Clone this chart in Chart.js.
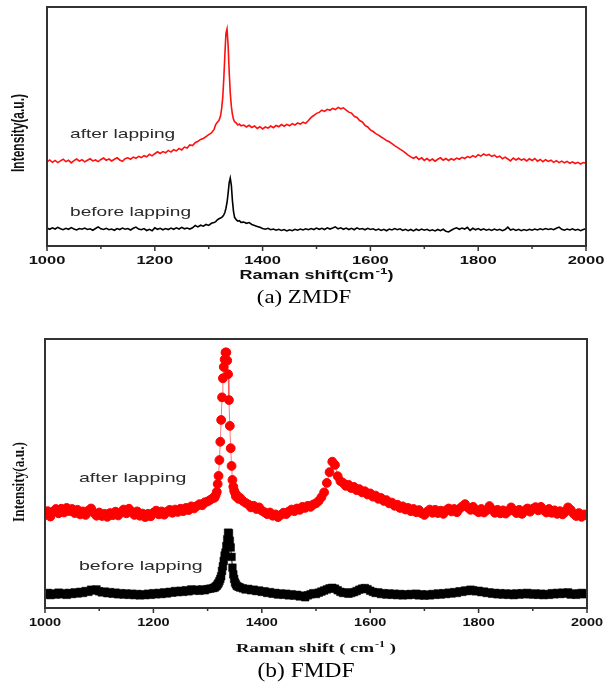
<!DOCTYPE html>
<html>
<head>
<meta charset="utf-8">
<script src="https://cdn.jsdelivr.net/npm/chart.js@4.4.1/dist/chart.umd.min.js"></script>
<style>
  html, body { margin: 0; padding: 0; background: #fff; }
  body { width: 606px; height: 684px; position: relative; overflow: hidden; }
  .wrap { position: absolute; left: 0; width: 606px; }
</style>
</head>
<body>
<div class="wrap" style="top:0;height:315px"><canvas id="chartA"></canvas></div>
<div class="wrap" style="top:315px;height:369px"><canvas id="chartB"></canvas></div>
<script>
// ---------- data ----------
function seq(a, b, step) { const r = []; for (let v = a; v <= b + 1e-9; v += step) r.push(+v.toFixed(1)); return r; }

// Raman shift sampling (cm^-1)
const ramanA = [...seq(1000, 1310, 5),
  1313, 1316, 1319, 1322, 1324, 1326, 1328, 1330, 1332, 1334, 1336, 1338, 1340, 1342, 1344, 1346, 1348, 1351, 1354, 1357, 1360,
  ...seq(1365, 2000, 5)];
const ramanB = [...seq(1000, 1310, 5),
  1313, 1315, 1317, 1318.6, 1320.2, 1321.8, 1323.4, 1325, 1326.6, 1328.2, 1329.8, 1331.4, 1333, 1334.6, 1336.2, 1337.8,
  1339.4, 1341, 1342.6, 1344.2, 1345.8, 1347.4, 1349, 1350.6, 1352.2, 1354, 1357, 1360,
  ...seq(1365, 2000, 5)];

// (a) ZMDF – after lapping
const zmdfAfter = [
  35.2, 36.0, 35.0, 35.8, 34.9, 35.6, 36.3, 35.3, 35.9, 34.8,
  35.7, 36.4, 35.5, 36.1, 35.2, 35.9, 36.5, 35.6, 36.0, 35.3,
  36.2, 36.8, 35.9, 36.4, 35.6, 36.3, 36.9, 36.0, 35.4, 36.5,
  36.9, 36.3, 37.2, 36.7, 37.5, 37.0, 37.8, 37.3, 38.4, 37.7,
  38.6, 39.4, 38.7, 39.5, 39.0, 40.0, 39.3, 40.3, 39.8, 40.8,
  40.2, 41.4, 41.0, 42.3, 42.0, 43.2, 43.8, 44.6, 45.0, 45.8,
  46.6, 47.3, 48.8,
  50.8, 51.8, 52.5, 54.5, 57.5, 62, 70, 80, 89, 90.8, 84, 73, 64, 58.5, 55, 53, 52, 51.5, 50.6, 51.0, 50.3,
  50.6, 49.8, 50.5, 49.6, 50.2, 49.2, 49.9, 49.0, 49.8, 49.3,
  50.2, 49.5, 50.4, 49.9, 50.8, 50.1, 50.9, 50.3, 51.2, 50.6,
  51.5, 51.0, 51.8, 51.3, 52.5, 53.8, 54.6, 55.5, 55.9, 56.8,
  56.3, 57.2, 56.8, 57.6, 57.1, 58.0, 57.4, 57.8, 56.9, 56.0,
  55.6, 54.3, 53.8, 52.5, 51.9, 50.5, 49.8, 48.6, 47.9, 47.0,
  46.4, 45.6, 44.9, 44.1, 43.6, 42.8, 42.0, 41.3, 40.5, 39.8,
  39.0, 38.0, 37.3, 36.7, 37.3, 36.2, 36.9, 35.8, 36.6, 35.7,
  36.4, 35.5, 36.3, 36.9, 35.9, 36.6, 35.8, 36.5, 36.0, 36.8,
  36.3, 37.1, 36.6, 37.4, 37.0, 37.8, 37.2, 38.2, 37.6, 38.5,
  37.9, 38.3, 37.5, 38.0, 37.1, 37.6, 36.5, 37.2, 36.4, 35.6,
  36.8, 36.0, 36.7, 35.9, 36.4, 35.6, 36.5, 35.8, 36.6, 35.5,
  36.2, 35.3, 36.1, 35.4, 35.9, 35.0, 35.7, 34.9, 35.5, 34.8,
  35.4, 34.6, 35.2, 34.5, 35.0, 34.3, 34.9, 34.6
];
// (a) ZMDF – before lapping
const zmdfBefore = [
  7.5, 7.0, 7.6, 7.1, 7.8, 7.2, 6.8, 7.4, 7.0, 7.7,
  7.1, 6.7, 7.3, 7.0, 7.5, 6.9, 7.2, 6.6, 7.3, 8.0,
  7.2, 6.9, 7.4, 6.8, 7.1, 6.6, 7.3, 6.9, 7.5, 7.0,
  7.3, 6.7, 7.4, 7.9, 7.1, 6.8, 7.3, 6.5, 7.0, 6.4,
  7.6, 7.0, 7.4, 6.8, 7.3, 6.9, 7.5, 7.0, 7.6, 7.1,
  7.8, 7.2, 7.5, 7.1, 7.6, 8.6, 8.0, 8.7, 8.3, 9.0,
  8.6, 9.5, 9.8,
  10.2, 10.9, 11.4, 11.7, 12.0, 12.4, 13.0, 14.0, 15.8, 18.2, 22.0, 26.5, 28.4, 25.5, 19.0, 14.5, 12.0, 11.0, 10.4, 10.6, 9.9,
  10.0, 9.5, 9.8, 9.0, 8.6, 8.2, 7.8, 7.3, 7.0, 7.4,
  6.8, 7.1, 6.6, 7.0, 6.5, 6.9, 6.3, 6.8, 6.4, 7.0,
  6.6, 7.1, 6.7, 7.2, 6.8, 7.3, 6.9, 7.5, 7.0, 7.4,
  6.9, 7.6, 7.1, 7.5, 8.0, 7.2, 7.6, 7.0, 7.5, 6.9,
  7.4, 6.8, 7.6, 7.0, 7.3, 6.8, 7.4, 6.9, 7.2, 6.6,
  7.1, 6.5, 7.0, 6.4, 7.1, 6.7, 7.3, 6.8, 7.2, 6.5,
  7.0, 6.4, 6.9, 6.3, 7.0, 6.5, 7.1, 6.6, 7.0, 6.4,
  6.8, 6.3, 6.9, 6.4, 7.0, 6.2, 5.9, 6.6, 7.2, 7.6,
  7.0, 7.5, 7.1, 7.8, 6.5, 7.4, 6.8, 7.3, 6.7, 7.2,
  6.6, 7.0, 6.5, 7.1, 6.6, 7.0, 6.4, 6.9, 7.9, 6.7,
  7.1, 6.5, 7.0, 6.4, 6.9, 6.5, 7.0, 6.6, 7.1, 6.7,
  7.2, 6.8, 7.3, 6.9, 7.2, 6.8, 7.4, 7.9, 7.0, 6.6,
  7.1, 6.7, 7.2, 6.6, 7.0, 6.4, 6.9, 7.2
];
// (b) FMDF – after lapping
const fmdfAfter = [
  34.5, 36.0, 34.0, 35.8, 36.8, 35.2, 36.9, 35.5, 37.2, 36.0,
  36.8, 35.3, 36.5, 34.8, 35.9, 34.6, 36.2, 37.0, 35.4, 34.3,
  35.5, 34.2, 35.0, 33.9, 35.3, 34.5, 35.8, 34.4, 35.6, 36.6,
  35.2, 36.9, 35.7, 34.6, 35.9, 34.3, 35.1, 33.8, 35.0, 34.1,
  35.4, 36.2, 34.8, 35.9, 34.7, 35.8, 36.5, 35.4, 36.6, 35.7,
  36.9, 36.0, 37.2, 36.4, 37.8, 37.0, 37.9, 38.6, 38.2, 39.3,
  39.6, 40.2, 40.9,
  41.0, 42.0, 43.2, 46.1, 49.1, 55.0, 61.8, 69.9, 78.3, 85.4, 89.6, 92.4, 95.0, 95.0, 92.0, 86.9,
  77.3, 67.7, 59.4, 52.8, 47.6, 45.1, 43.6, 42.8, 41.5, 41.9, 40.6, 40.9,
  39.8, 39.1, 38.5, 37.4, 38.0, 36.8, 37.4, 36.2, 35.6, 34.9,
  35.5, 34.3, 34.8, 33.8, 34.6, 35.4, 34.9, 35.9, 36.6, 36.0,
  37.0, 36.5, 37.6, 37.2, 38.0, 37.6, 38.5, 38.9, 39.8, 41.2,
  43.0, 46.5, 50.5, 54.4, 53.2, 49.0, 47.2, 46.5, 45.4, 45.8,
  44.6, 45.0, 43.8, 44.2, 43.0, 43.4, 42.2, 42.6, 41.4, 41.8,
  40.6, 40.9, 39.8, 40.1, 38.9, 39.2, 38.0, 38.4, 37.2, 37.8,
  36.6, 37.2, 36.0, 36.8, 35.6, 36.4, 35.2, 34.6, 35.8, 36.6,
  35.4, 36.5, 35.3, 36.2, 35.0, 36.3, 37.0, 35.9, 36.8, 35.6,
  36.9, 37.8, 38.6, 37.4, 36.5, 37.6, 36.3, 35.6, 36.8, 35.5,
  36.4, 37.9, 36.6, 35.4, 36.5, 35.2, 36.3, 35.1, 36.0, 37.4,
  36.2, 35.3, 36.5, 35.0, 36.1, 37.0, 35.8, 36.9, 37.5, 36.3,
  37.6, 36.4, 35.5, 36.8, 35.4, 36.3, 35.0, 36.0, 34.8, 35.7,
  37.4, 36.5, 35.1, 34.2, 35.3, 33.9, 34.8, 34.4
];
// (b) FMDF – before lapping
const fmdfBefore = [
  5.0, 5.6, 4.8, 5.4, 5.0, 5.7, 5.1, 5.5, 4.9, 5.6,
  5.2, 5.8, 5.4, 6.0, 5.6, 6.3, 6.0, 6.8, 6.5, 6.9,
  6.2, 5.8, 6.1, 5.5, 5.9, 5.3, 5.7, 5.1, 5.5, 5.0,
  5.4, 4.9, 5.3, 4.8, 5.2, 4.7, 5.1, 4.8, 5.3, 4.9,
  5.5, 5.1, 5.6, 5.2, 5.8, 5.4, 6.0, 5.7, 6.3, 5.9,
  6.4, 6.0, 6.6, 6.2, 6.9, 6.5, 6.8, 6.4, 6.9, 6.6,
  7.0, 7.2, 7.4,
  7.6, 8.0, 8.3, 8.8, 9.3, 10.0, 10.8, 11.8, 13.8, 15.5, 17.5, 19.5, 20.6, 23.0, 25.5, 28.0,
  27.8, 25.0, 22.5, 19.0, 15.0, 12.5, 10.8, 9.5, 8.8, 8.2, 7.9, 7.6,
  7.3, 6.9, 7.1, 6.6, 6.8, 6.3, 6.5, 6.0, 6.2, 5.6,
  5.9, 5.3, 5.6, 5.0, 5.4, 4.9, 5.3, 4.7, 5.1, 4.6,
  4.9, 4.3, 4.6, 4.0, 4.7, 5.1, 5.5, 5.2, 5.7, 6.1,
  6.5, 6.9, 7.3, 7.5, 7.2, 6.6, 6.0, 5.6, 5.8, 5.3,
  5.6, 5.9, 6.3, 6.8, 7.2, 7.4, 7.0, 6.4, 6.0, 5.6,
  5.8, 5.2, 5.5, 5.0, 5.4, 4.9, 5.3, 4.8, 5.2, 4.7,
  5.1, 4.8, 5.2, 4.9, 5.3, 4.7, 5.1, 4.6, 5.0, 4.7,
  5.2, 4.9, 5.4, 5.0, 5.5, 5.2, 5.7, 5.4, 5.9, 5.6,
  6.2, 6.0, 6.5, 6.3, 6.8, 6.6, 6.2, 6.4, 5.9, 6.1,
  5.6, 5.8, 5.3, 5.6, 5.1, 5.5, 5.0, 5.4, 4.9, 5.3,
  4.8, 5.4, 5.0, 5.5, 5.1, 5.6, 5.2, 5.0, 5.4, 4.9,
  5.3, 4.8, 5.2, 4.9, 5.5, 5.1, 5.6, 5.2, 5.7, 5.3,
  5.8, 5.0, 5.4, 4.9, 5.3, 5.6, 5.1, 5.4
];

const xTickValues = [1000, 1200, 1400, 1600, 1800, 2000];
const seriesLabels = ['after lapping', 'before lapping'];

[[ramanA, zmdfAfter], [ramanA, zmdfBefore], [ramanB, fmdfAfter], [ramanB, fmdfBefore]].forEach(([x, y], i) => {
  if (x.length !== y.length) console.error('length mismatch in series ' + i + ': ' + x.length + ' vs ' + y.length);
});
const pts = (xs, ys) => xs.map((x, i) => ({ x, y: ys[i] }));

// ---------- text helpers ----------
function sText(ctx, txt, x, y, font, sx, align, color) {
  ctx.save();
  ctx.font = font;
  ctx.fillStyle = color || '#111';
  ctx.textBaseline = 'alphabetic';
  ctx.textAlign = 'left';
  const w = ctx.measureText(txt).width * sx;
  const left = align === 'center' ? x - w / 2 : (align === 'right' ? x - w : x);
  ctx.translate(left, y);
  ctx.scale(sx, 1);
  ctx.fillText(txt, 0, 0);
  ctx.restore();
  return w;
}
function measure(ctx, txt, font, sx) { ctx.save(); ctx.font = font; const w = ctx.measureText(txt).width * sx; ctx.restore(); return w; }
function vText(ctx, txt, cx, cy, font, sy, color) {
  ctx.save();
  ctx.font = font; ctx.fillStyle = color || '#111';
  ctx.textAlign = 'center'; ctx.textBaseline = 'middle';
  ctx.translate(cx, cy); ctx.rotate(-Math.PI / 2); ctx.scale(1, sy);
  ctx.fillText(txt, 0, 0);
  ctx.restore();
}

function decorPlugin(cfg) {
  return {
    id: 'decor',
    afterDatasetsDraw(chart) {
      const { ctx, chartArea: a, scales } = chart;
      const xs = scales.x;
      const oy = cfg.offsetY;
      ctx.save();
      ctx.strokeStyle = '#333'; ctx.lineWidth = 2;
      ctx.strokeRect(a.left, a.top, a.right - a.left, a.bottom - a.top);
      ctx.lineWidth = 1.5;
      xs.ticks.forEach(t => {
        const px = xs.getPixelForValue(t.value);
        const major = t.value % 200 === 0;
        ctx.beginPath();
        ctx.moveTo(px, a.bottom);
        ctx.lineTo(px, a.bottom + (major ? 5 : 3));
        ctx.stroke();
      });
      ctx.restore();
      xTickValues.forEach(v => {
        sText(ctx, String(v), xs.getPixelForValue(v), cfg.tickBase - oy, cfg.tickFont, cfg.tickSx, 'center');
      });
      const cx = (a.left + a.right) / 2;
      const w1 = measure(ctx, cfg.title[0], cfg.titleFont, cfg.titleSx);
      const w2 = measure(ctx, cfg.title[1], cfg.supFont, cfg.titleSx);
      const w3 = measure(ctx, cfg.title[2], cfg.titleFont, cfg.titleSx);
      const x0 = cx - (w1 + w2 + w3 + 1) / 2;
      sText(ctx, cfg.title[0], x0, cfg.titleBase - oy, cfg.titleFont, cfg.titleSx, 'left');
      sText(ctx, cfg.title[1], x0 + w1 + 1, cfg.supBase - oy, cfg.supFont, cfg.titleSx, 'left');
      sText(ctx, cfg.title[2], x0 + w1 + w2 + 1, cfg.titleBase - oy, cfg.titleFont, cfg.titleSx, 'left');
      vText(ctx, 'Intensity(a.u.)', cfg.yTitleX, cfg.yTitleY - oy, cfg.yTitleFont, cfg.yTitleSy);
      sText(ctx, seriesLabels[0], cfg.annX, cfg.annAfter - oy, cfg.annFont, cfg.annSx, 'left', '#2a2a2a');
      sText(ctx, seriesLabels[1], cfg.annX, cfg.annBefore - oy, cfg.annFont, cfg.annSx, 'left', '#2a2a2a');
      sText(ctx, cfg.caption, cfg.capX, cfg.capBase - oy, cfg.capFont, cfg.capSx, 'center', '#000');
    }
  };
}

function xScale(height) {
  return {
    type: 'linear', min: 1000, max: 2000,
    ticks: { stepSize: 100, display: false },
    grid: { display: false }, border: { display: false },
    afterFit(s) { s.height = height; }
  };
}

Chart.defaults.animation = false;

// (a) ZMDF
new Chart(document.getElementById('chartA'), {
  type: 'line',
  data: {
    datasets: [
      { label: seriesLabels[0], data: pts(ramanA, zmdfAfter), borderColor: '#ff1010', borderWidth: 1.6, pointRadius: 0, tension: 0 },
      { label: seriesLabels[1], data: pts(ramanA, zmdfBefore), borderColor: '#000', borderWidth: 1.6, pointRadius: 0, tension: 0 }
    ]
  },
  options: {
    responsive: true, maintainAspectRatio: false, devicePixelRatio: 1,
    layout: { padding: { left: 47, right: 20, top: 7, bottom: 0 } },
    plugins: { legend: { display: false }, tooltip: { enabled: false } },
    scales: { x: xScale(69), y: { min: 0, max: 100, display: false } }
  },
  plugins: [decorPlugin({
    offsetY: 0,
    tickBase: 264, tickFont: 'bold 11px "Liberation Sans"', tickSx: 1.5,
    title: ['Raman shift(cm', '-1', ')'], titleFont: 'bold 12px "Liberation Sans"', supFont: 'bold 9px "Liberation Sans"',
    titleSx: 1.5, titleBase: 279, supBase: 274,
    yTitleX: 19, yTitleY: 133, yTitleFont: 'bold 12px "Liberation Sans"', yTitleSy: 1.5,
    annX: 70, annAfter: 138, annBefore: 216, annFont: '13px "Liberation Sans"', annSx: 1.47,
    caption: '(a) ZMDF', capX: 304, capBase: 303, capFont: '19px "Liberation Serif"', capSx: 1.2
  })]
});

// (b) FMDF
new Chart(document.getElementById('chartB'), {
  type: 'line',
  data: {
    datasets: [
      { label: seriesLabels[0], data: pts(ramanB, fmdfAfter), borderColor: 'rgba(240,60,60,0.85)', borderWidth: 0.8,
        pointStyle: 'circle', pointRadius: 4.4, pointBackgroundColor: '#ff0000', pointBorderColor: '#ff0000', pointBorderWidth: 1, tension: 0 },
      { label: seriesLabels[1], data: pts(ramanB, fmdfBefore), borderColor: '#000', borderWidth: 1,
        pointStyle: 'rect', pointRadius: 5.4, pointBackgroundColor: '#000', pointBorderColor: '#000', pointBorderWidth: 0.5, tension: 0 }
    ]
  },
  options: {
    responsive: true, maintainAspectRatio: false, devicePixelRatio: 1,
    layout: { padding: { left: 45, right: 19, top: 24, bottom: 0 } },
    plugins: { legend: { display: false }, tooltip: { enabled: false } },
    scales: { x: xScale(76), y: { min: 0, max: 100, display: false } }
  },
  plugins: [decorPlugin({
    offsetY: 315,
    tickBase: 625.5, tickFont: 'bold 10.5px "Liberation Sans"', tickSx: 1.38,
    title: ['Raman shift ( cm', '-1', ' )'], titleFont: 'bold 12.5px "Liberation Serif"', supFont: 'bold 8px "Liberation Serif"',
    titleSx: 1.5, titleBase: 651.5, supBase: 646.5,
    yTitleX: 20, yTitleY: 482, yTitleFont: 'bold 13.3px "Liberation Serif"', yTitleSy: 1.3,
    annX: 79, annAfter: 482, annBefore: 569.5, annFont: '13px "Liberation Sans"', annSx: 1.5,
    caption: '(b) FMDF', capX: 306, capBase: 676.5, capFont: '20px "Liberation Serif"', capSx: 1.17
  })]
});
</script>
</body>
</html>
